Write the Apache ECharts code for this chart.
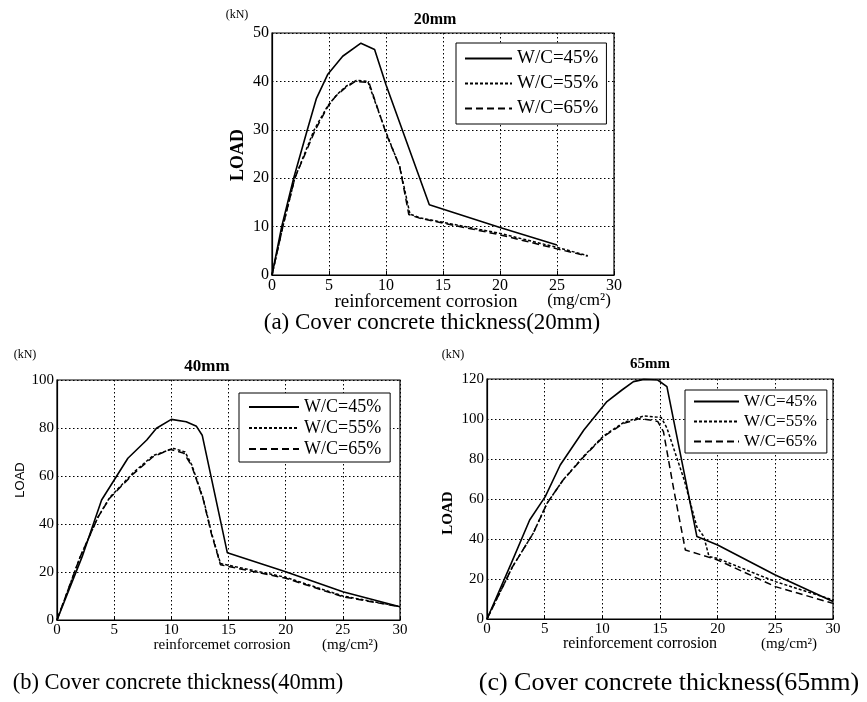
<!DOCTYPE html>
<html>
<head>
<meta charset="utf-8">
<script src="https://cdn.jsdelivr.net/npm/echarts@6/dist/echarts.min.js"></script>
<style>
  html, body { margin: 0; padding: 0; background: #fff; }
  #chart { width: 867px; height: 702px; }
</style>
</head>
<body>
<div id="chart"></div>
<script>
// 图例名称
var names = ['W/C=45%', 'W/C=55%', 'W/C=65%'];

// (a) 20mm  [腐食量, 荷重]
var a45 = [[0, 0], [0.85, 10], [1.9, 20], [3.1, 30], [3.9, 36.5], [4.9, 41.5], [6.2, 45.2], [7.8, 47.9], [9.0, 46.6], [10, 39.3], [13.8, 14.5], [20, 9.8], [25, 6.2]];
var a55 = [[0, 0], [0.95, 10], [2.0, 20], [3.7, 30], [4.9, 35], [5.8, 37.5], [6.5, 39], [7.4, 40.2], [8.4, 40], [10, 29.5], [11.2, 22.4], [12.1, 12.6], [13, 11.8], [20, 8.6], [25, 5.7], [27.7, 4.0]];
var a65 = [[0, 0], [0.95, 10], [2.0, 20], [3.8, 30], [4.9, 34.8], [5.6, 37], [6.4, 38.6], [7.3, 40], [8.5, 39.8], [10, 29.3], [11.2, 22.4], [12.0, 12.5], [13, 11.7], [20, 8.3], [25, 5.4], [27.7, 3.9]];

// (b) 40mm
var b45 = [[0, 0], [2.2, 26.4], [3.9, 50], [6.2, 67.4], [7.85, 75], [8.7, 79.9], [10, 83.6], [11.3, 82.6], [12.2, 80.7], [12.7, 77], [14.9, 28], [20, 20.1], [25, 11.8], [30, 5.5]];
var b55 = [[0, 0], [2.0, 26], [3.6, 43], [4.6, 51], [6.7, 61.5], [8.4, 68.5], [10.2, 71.5], [11.2, 70], [11.8, 64.5], [12.8, 50.5], [13.5, 36.5], [14.3, 23.5], [20, 17.8], [25, 10], [30, 5.6]];
var b65 = [[0, 0], [2.0, 26], [3.6, 43], [4.6, 50.7], [6.7, 61], [8.4, 68], [9.9, 71.1], [11.1, 69.5], [11.8, 64], [12.8, 50], [13.5, 36], [14.3, 23], [20, 17.4], [25, 9.7], [30, 5.5]];

// (c) 65mm
var c45 = [[0, 0], [2.1, 27.8], [3.7, 49.5], [5.05, 61.2], [6.35, 77], [8.4, 94.5], [10.4, 108.7], [11.7, 114.5], [12.7, 118.7], [13.6, 119.8], [14.8, 119.5], [15.6, 116.2], [18.2, 41.2], [20, 37], [25, 22], [30, 8.7]];
var c55 = [[0, 0], [2.2, 26], [4.0, 42.8], [5.2, 57.8], [6.6, 69.5], [8.4, 81.5], [10.1, 91.5], [11.85, 98.3], [13.6, 101.5], [15.1, 100.8], [15.6, 95.5], [17.1, 69.5], [18.2, 46], [18.8, 41.2], [19.25, 31.2], [20, 30.3], [25, 18.7], [30, 9.5]];
var c65 = [[0, 0], [2.2, 26], [4.0, 42.8], [5.2, 57.8], [6.6, 69.5], [8.4, 81.2], [10.1, 91.2], [11.85, 97.8], [13.3, 100.3], [14.8, 98.8], [15.3, 93.7], [16.2, 64.5], [17.2, 34.5], [20, 29.5], [25, 16.2], [30, 7.8]];

// 轴范围
var yMax = [50, 100, 120];
var yStep = [10, 20, 20];

var serif = 'Liberation Serif';
var lineTypes = ['solid', [3, 2], [7, 4]];

function xAxisOf(i, fs) {
    return {
        gridIndex: i, type: 'value', min: 0, max: 30, interval: 5,
        axisLine: { show: true, lineStyle: { color: '#000', width: 1.2 } },
        axisTick: { show: true, inside: true, length: 4, lineStyle: { color: '#000' } },
        axisLabel: { color: '#000', fontFamily: serif, fontSize: fs, margin: 3 },
        splitLine: { show: true, lineStyle: { color: '#000', type: [1.5, 2.5], width: 1 } }
    };
}
function yAxisOf(i, fs) {
    return {
        gridIndex: i, type: 'value', min: 0, max: yMax[i], interval: yStep[i],
        axisLine: { show: true, lineStyle: { color: '#000', width: 1.2 } },
        axisTick: { show: false },
        axisLabel: { color: '#000', fontFamily: serif, fontSize: fs, margin: 3 },
        splitLine: { show: true, lineStyle: { color: '#000', type: [1.5, 2.5], width: 1 } }
    };
}
function lineOf(i, k, data) {
    return {
        type: 'line', name: names[k], xAxisIndex: i, yAxisIndex: i,
        data: data, symbol: 'none', showSymbol: false, smooth: false, animation: false,
        itemStyle: { color: '#000' },
        lineStyle: { color: '#000', width: k === 0 ? 1.6 : 1.5, type: lineTypes[k] }
    };
}
function legendOf(left, top, fs, pad, gap, w) {
    return {
        left: left, top: top, orient: 'vertical', data: names,
        itemWidth: w, itemHeight: 12, itemGap: gap, padding: pad,
        borderColor: '#000', borderWidth: 1, backgroundColor: '#fff',
        selectedMode: false,
        itemStyle: { opacity: 0 },
        textStyle: { fontFamily: serif, fontSize: fs, color: '#000' }
    };
}
function txt(x, y, s, font, rot) {
    return {
        type: 'text', x: x, y: y, rotation: rot || 0,
        style: { text: s, font: font, fill: '#000', align: 'center', verticalAlign: 'middle' }
    };
}

var option = {
    backgroundColor: '#fff',
    animation: false,
    grid: [
        { left: 272, top: 33, width: 342, height: 242, show: true, borderColor: '#000', borderWidth: 1.2 },
        { left: 57, top: 380, width: 343, height: 240, show: true, borderColor: '#000', borderWidth: 1.2 },
        { left: 487, top: 379, width: 346, height: 240, show: true, borderColor: '#000', borderWidth: 1.2 }
    ],
    xAxis: [xAxisOf(0, 16), xAxisOf(1, 15), xAxisOf(2, 15)],
    yAxis: [yAxisOf(0, 16), yAxisOf(1, 15), yAxisOf(2, 15)],
    legend: [
        legendOf(456, 43, 19, [6, 8, 6, 8], 6, 47),
        legendOf(239, 393, 18, [5, 9, 4, 9], 3, 50),
        legendOf(685, 390, 17, [3, 10, 3, 8], 3, 45)
    ],
    series: [
        lineOf(0, 0, a45), lineOf(0, 1, a55), lineOf(0, 2, a65),
        lineOf(1, 0, b45), lineOf(1, 1, b55), lineOf(1, 2, b65),
        lineOf(2, 0, c45), lineOf(2, 1, c55), lineOf(2, 2, c65)
    ],
    graphic: [
        // (a)
        txt(237, 15, '(kN)', '12px ' + serif),
        txt(435, 20, '20mm', 'bold 16px ' + serif),
        txt(238, 155, 'LOAD', 'bold 18px ' + serif, Math.PI / 2),
        txt(426, 302, 'reinforcement corrosion', '19px ' + serif),
        txt(579, 301, '(mg/cm²)', '17px ' + serif),
        txt(432, 323, '(a) Cover concrete thickness(20mm)', '23px ' + serif),
        // (b)
        txt(25, 355, '(kN)', '12px ' + serif),
        txt(207, 367, '40mm', 'bold 17px ' + serif),
        txt(20, 480, 'LOAD', '13px Liberation Sans', Math.PI / 2),
        txt(222, 645, 'reinforcemet corrosion', '15px ' + serif),
        txt(350, 645, '(mg/cm²)', '15px ' + serif),
        txt(178, 683, '(b) Cover concrete thickness(40mm)', '22.5px ' + serif),
        // (c)
        txt(453, 355, '(kN)', '12px ' + serif),
        txt(650, 364, '65mm', 'bold 15px ' + serif),
        txt(448, 513, 'LOAD', 'bold 15px ' + serif, Math.PI / 2),
        txt(640, 644, 'reinforcement corrosion', '16px ' + serif),
        txt(789, 644, '(mg/cm²)', '15px ' + serif),
        txt(669, 683, '(c) Cover concrete thickness(65mm)', '26px ' + serif)
    ]
};

var myChart = echarts.init(document.getElementById('chart'));
myChart.setOption(option);
</script>
</body>
</html>
